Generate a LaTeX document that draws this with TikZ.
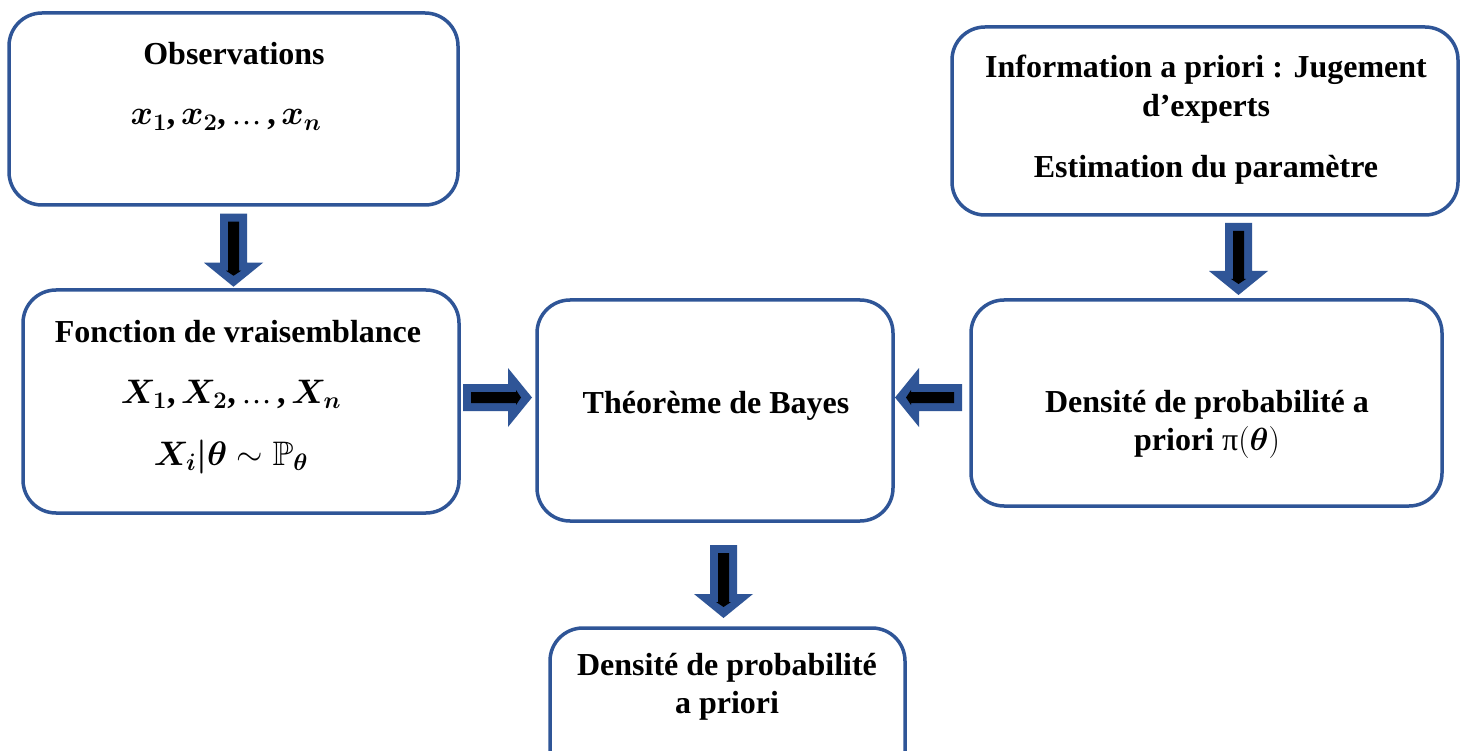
\RequirePackage{fix-cm}
\documentclass[tikz,border=0pt]{standalone}
\usepackage{amssymb}
\usepackage{bm}
\usepackage{fontspec}
\setmainfont{Liberation Serif}
\usetikzlibrary{calc}
\definecolor{boxblue}{RGB}{47,85,151}
\newcommand{\mathsz}{\fontsize{34}{38}\selectfont}
\newcommand{\myell}{{\fontsize{30}{38}\selectfont\mdseries …}}
\tikzset{
  box/.style={draw=boxblue, line width=3.5pt, rounded corners=33pt, inner sep=0pt, rectangle},
  txt/.style={anchor=base, inner sep=0pt, font=\fontsize{32}{38}\selectfont\bfseries},
  pics/blockarrow/.style={code={
    \fill[boxblue] (0,-13.5) -- ({#1-24},-13.5) -- ({#1-24},-29.5) -- (#1,0) -- ({#1-24},29.5) -- ({#1-24},13.5) -- (0,13.5) -- cycle;
    \fill[black] (8,-5.5) -- ({#1-16},-5.5) -- ({#1-16},-7.5) -- ({#1-11},0) -- ({#1-16},7.5) -- ({#1-16},5.5) -- (8,5.5) -- cycle;
  }}
}
\begin{document}
\begin{tikzpicture}[x=1pt,y=-1pt]
\useasboundingbox (0,0) rectangle (1462,751);
\fill[white] (0,0) rectangle (1462,751);

% boxes
\node[box, minimum width=449pt, minimum height=192pt] (obs) at (233.5,109) {};
\node[box, minimum width=436pt, minimum height=223pt] (fonc) at (241,401.5) {};
\node[box, minimum width=356pt, minimum height=221pt] (bayes) at (715,410.5) {};
\node[box, minimum width=506pt, minimum height=188pt] (info) at (1205,121) {};
\node[box, minimum width=471pt, minimum height=206pt] (dens) at (1206.5,403) {};
\begin{scope}
\clip (0,0) rectangle (1462,751);
\node[box, minimum width=355pt, minimum height=170pt] (post) at (727.5,713) {};
\end{scope}

% block arrows
\pic[rotate=-90] at ($(obs.south)+(0,7)$) {blockarrow=73};
\pic at (463,397.5) {blockarrow=69};
\pic[rotate=180] at (962,397.5) {blockarrow=67};
\pic[rotate=-90] at (1238.5,223) {blockarrow=72};
\pic[rotate=-90] at (723.5,545) {blockarrow=73};

% texts
\node[txt] (t1) at (234,65) {Observations};
\node[txt] (t2) at (226,125) {\mathsz$\bm{x_1}$,\,$\bm{x_2}$,\,\myell\,,\,$\bm{x_n}$};
\node[txt] (t3) at (238,343) {Fonction de vraisemblance};
\node[txt] (t4) at (231,403) {\mathsz$\bm{X_1}$,\,$\bm{X_2}$,\,\myell\,,\,$\bm{X_n}$};
\node[txt] (t5) at (231,465) {\mathsz$\bm{X_i|\theta} \sim \mathbb{P}_{\bm{\theta}}$};
\node[txt] (t6) at (716,413) {Théorème de Bayes};
\node[txt] (t7) at (1206,78) {Information a priori : Jugement};
\node[txt] (t8) at (1206,117) {d’experts};
\node[txt] (t9) at (1206,178) {Estimation du paramètre};
\node[txt] (t10) at (1207,412) {Densité de probabilité a};
\node[txt] (t11) at (1207,450) {priori {\mdseries π}$(\bm{\theta})$};
\node[txt] (t12) at (727,675) {Densité de probabilité};
\node[txt] (t13) at (727,713) {a priori};
\end{tikzpicture}
\end{document}
